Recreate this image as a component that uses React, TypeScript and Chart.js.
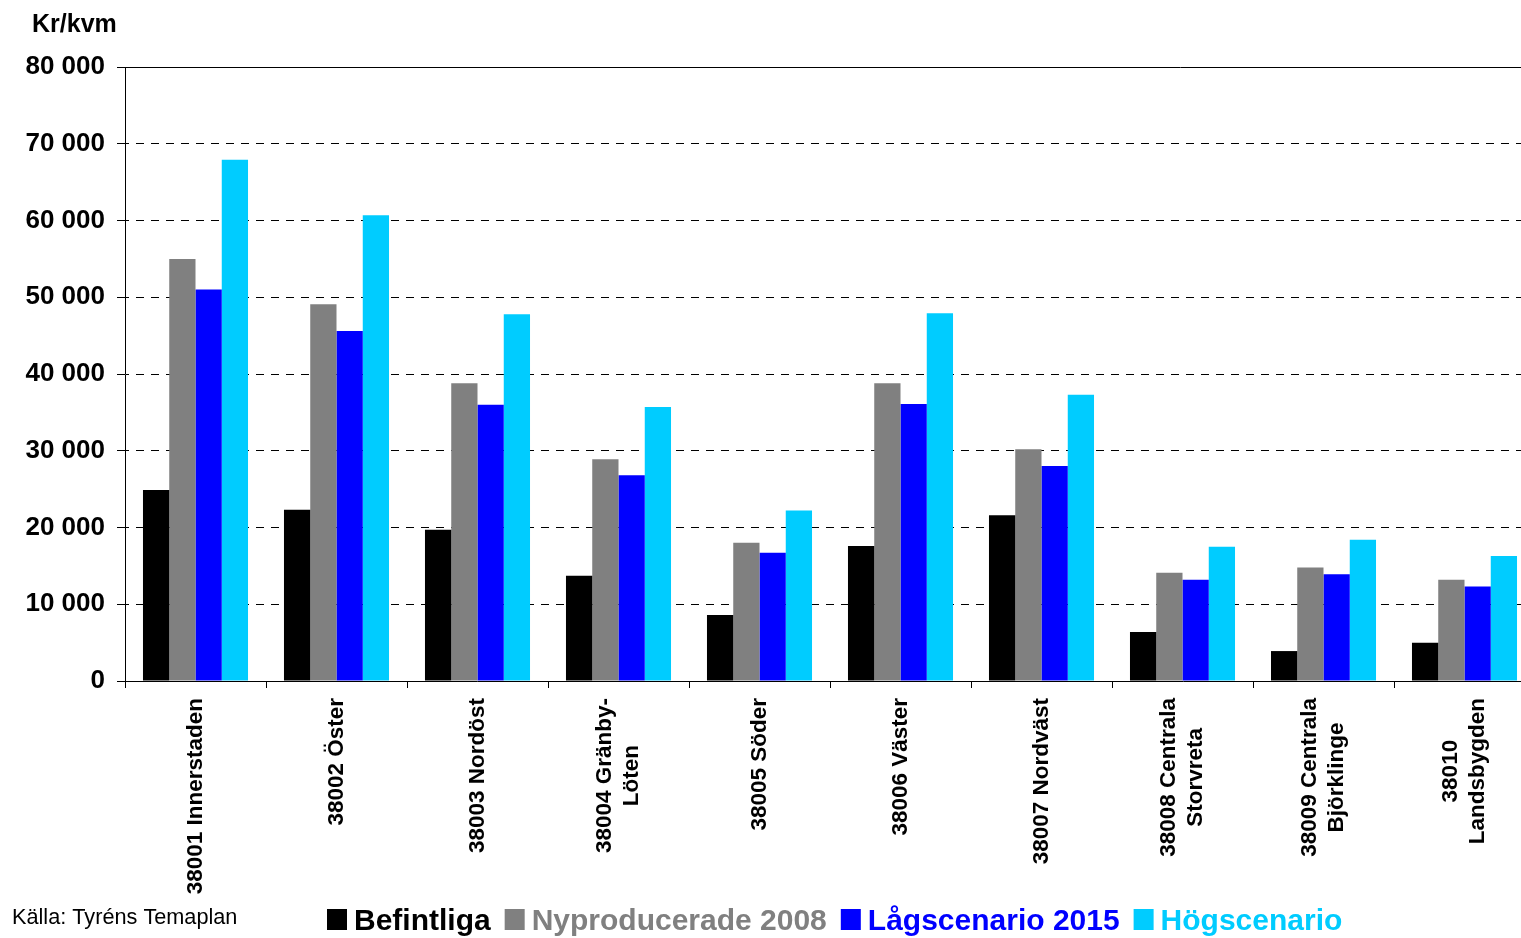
import React, { useEffect, useRef } from 'react';
import { Chart, registerables } from 'chart.js';

Chart.register(...registerables);

const FONT = '"Liberation Sans", Arial, Helvetica, sans-serif';

const categoryLines: string[][] = [
  ['38001 Innerstaden'],
  ['38002 Öster'],
  ['38003 Nordöst'],
  ['38004 Gränby-', 'Löten'],
  ['38005 Söder'],
  ['38006 Väster'],
  ['38007 Nordväst'],
  ['38008 Centrala', 'Storvreta'],
  ['38009 Centrala', 'Björklinge'],
  ['38010', 'Landsbygden'],
];

const seriesNames = ['Befintliga', 'Nyproducerade 2008', 'Lågscenario 2015', 'Högscenario'];
const seriesColors = ['#000000', '#808080', '#0000FF', '#00CCFF'];

const befintliga = [24900, 22300, 19700, 13700, 8600, 17600, 21600, 6400, 3900, 5000];
const nyproducerade2008 = [55000, 49100, 38800, 28900, 18000, 38800, 30200, 14100, 14800, 13200];
const lagscenario2015 = [51000, 45600, 36000, 26800, 16700, 36100, 28000, 13200, 13900, 12300];
const hogscenario = [67900, 60700, 47800, 35700, 22200, 47900, 37300, 17500, 18400, 16300];

const yMin = 0;
const yMax = 80000;
const yStep = 10000;

const unitLabel = 'Kr/kvm';
const sourceLabel = 'Källa: Tyréns Temaplan';

const fmt = (v: number) => String(v).replace(/\B(?=(\d{3})+(?!\d))/g, ' ');

const decorPlugin = {
  id: 'decor',
  beforeDatasetsDraw(chart: any) {
    const ctx = chart.ctx;
    const { left, right } = chart.chartArea;
    const yTop = chart.scales.y.getPixelForValue(yMax);
    const py = Math.round(yTop - 0.5) + 0.5;
    ctx.save();
    ctx.setLineDash([]);
    ctx.strokeStyle = '#000';
    ctx.lineWidth = 1;
    ctx.beginPath();
    ctx.moveTo(left - 8, py);
    ctx.lineTo(right, py);
    ctx.stroke();
    ctx.restore();
  },
  afterDraw(chart: any) {
    const ctx = chart.ctx;
    const { bottom } = chart.chartArea;
    const xs = chart.scales.x;
    ctx.save();
    // category labels, rotated, lines centred
    ctx.font = `bold 22.5px ${FONT}`;
    ctx.fillStyle = '#000';
    categoryLines.forEach((lines, i) => {
      const cx = xs.getPixelForValue(i);
      const maxW = Math.max(...lines.map((l) => ctx.measureText(l).width));
      const lh = 27;
      ctx.save();
      ctx.translate(cx, bottom + 17 + maxW / 2);
      ctx.rotate(-Math.PI / 2);
      ctx.textAlign = 'center';
      ctx.textBaseline = 'middle';
      lines.forEach((l, j) => ctx.fillText(l, 0, (j - (lines.length - 1) / 2) * lh));
      ctx.restore();
    });

    // unit label
    ctx.font = `bold 25px ${FONT}`;
    ctx.textAlign = 'left';
    ctx.textBaseline = 'alphabetic';
    ctx.fillStyle = '#000';
    ctx.fillText(unitLabel, 32, 32);

    // source
    ctx.font = `21.7px ${FONT}`;
    ctx.fillText(sourceLabel, 12, 924);

    // legend
    ctx.font = `bold 30px ${FONT}`;
    let x = 327;
    chart.data.datasets.forEach((ds: any) => {
      const color = ds.backgroundColor as string;
      ctx.fillStyle = color;
      ctx.fillRect(x, 909, 20, 21);
      x += 27;
      ctx.fillText(ds.label, x, 930);
      x += ctx.measureText(ds.label).width + 14;
    });
    ctx.restore();
  },
};

export default function App() {
  const canvasRef = useRef<HTMLCanvasElement | null>(null);

  useEffect(() => {
    const canvas = canvasRef.current;
    if (!canvas) return;
    const values = [befintliga, nyproducerade2008, lagscenario2015, hogscenario];
    const chart = new Chart(canvas, {
      type: 'bar',
      data: {
        labels: categoryLines.map((l) => l.join(' ')),
        datasets: values.map((v, i) => ({
          label: seriesNames[i],
          data: v,
          backgroundColor: seriesColors[i],
          borderWidth: 0,
          barPercentage: 1,
          categoryPercentage: 0.745,
        })),
      },
      options: {
        animation: false,
        responsive: false,
        devicePixelRatio: 1,
        layout: { padding: { top: 67, right: 25, bottom: 0, left: 0 } },
        plugins: {
          legend: { display: false },
          title: { display: false },
          tooltip: { enabled: false },
        },
        scales: {
          x: {
            grid: {
              display: true,
              drawOnChartArea: false,
              drawTicks: true,
              tickLength: 7,
              color: '#000',
              offset: true,
            },
            border: { display: true, color: '#000', width: 1 },
            ticks: { autoSkip: false, maxRotation: 0, minRotation: 0, callback: () => '', padding: 0 },
            afterFit: (scale: any) => {
              scale.height = 938 - 681;
            },
          },
          y: {
            min: yMin,
            max: yMax,
            grid: {
              color: '#000',
              lineWidth: 1,
              drawTicks: true,
              tickLength: 8,
            },
            border: { display: true, color: '#000', width: 1, dash: [8, 7], dashOffset: 5 },
            ticks: {
              stepSize: yStep,
              color: '#000',
              padding: 12,
              font: { family: FONT, size: 26, weight: 'bold' },
              callback: (v: any) => fmt(Number(v)),
            },
            afterFit: (scale: any) => {
              scale.width = 125;
            },
          },
        },
      },
      plugins: [decorPlugin],
    } as any);
    return () => chart.destroy();
  }, []);

  return (
    <div
      style={{
        position: 'absolute',
        left: 0,
        top: 0,
        width: 1521,
        height: 938,
        overflow: 'hidden',
        background: '#fff',
      }}
    >
      <canvas ref={canvasRef} width={1560} height={938} style={{ display: 'block' }} />
    </div>
  );
}
